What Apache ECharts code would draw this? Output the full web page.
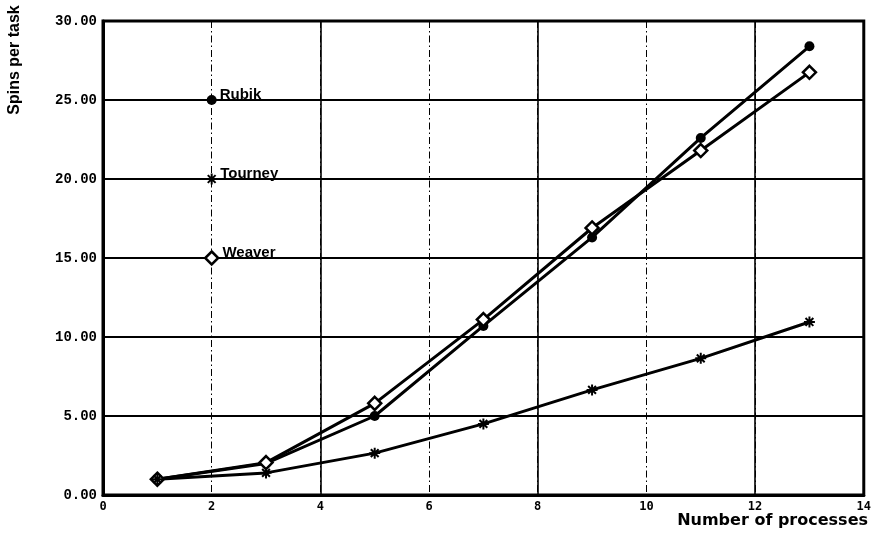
<!DOCTYPE html>
<html>
<head>
<meta charset="utf-8">
<title>Spins per task</title>
<script src="https://cdn.jsdelivr.net/npm/echarts@6/dist/echarts.min.js"></script>
<style>
  html, body { margin: 0; padding: 0; background: #fff; }
  #chart { width: 874px; height: 544px; }
</style>
</head>
<body>
<div id="chart"></div>
<script>
// Number of processes on the x axis
const processes = [1, 3, 5, 7, 9, 11, 13];

// Average spins per task for each lock algorithm
const rubik   = [1.0, 2.0, 5.0, 10.7, 16.3, 22.6, 28.4];
const tourney = [1.0, 1.4, 2.65, 4.5, 6.65, 8.65, 10.95];
const weaver  = [1.0, 2.05, 5.8, 11.1, 16.9, 21.8, 26.75];

// In-plot key: names with the y level of each marker (drawn at x = 2)
const keyNames = ['Rubik', 'Tourney', 'Weaver'];
const keyLevels = [25, 20, 15];
const keyX = 2;

// Axis ranges
const xMin = 0, xMax = 14, xStep = 2;
const yMin = 0, yMax = 30, yStep = 5;

const ink = '#000';
const asterisk = 'path://M-0.9,-5L0.9,-5L0.9,5L-0.9,5Z M-5,-0.9L5,-0.9L5,0.9L-5,0.9Z ' +
  'M-4.2,-2.9L-2.9,-4.2L4.2,2.9L2.9,4.2Z M2.9,-4.2L4.2,-2.9L-2.9,4.2L-4.2,2.9Z';

const markers = {
  Rubik:   { symbol: 'circle', symbolSize: 10, itemStyle: { color: ink, opacity: 1 } },
  Tourney: { symbol: asterisk, symbolSize: 11, itemStyle: { color: ink, opacity: 1 } },
  Weaver:  { symbol: 'diamond', symbolSize: 13,
             itemStyle: { color: '#fff', borderColor: ink, borderWidth: 2.5, opacity: 1 } }
};

function pairs(ys) { return processes.map((x, i) => [x, ys[i]]); }

function lineSeries(name, ys) {
  const m = markers[name];
  return {
    name, type: 'line', xAxisIndex: 0, yAxisIndex: 0,
    data: pairs(ys),
    symbol: m.symbol, symbolSize: m.symbolSize, showAllSymbol: true,
    itemStyle: m.itemStyle,
    lineStyle: { color: ink, width: 3 },
    z: 5, animation: false
  };
}

const keyData = keyNames.map((n, i) => ({
  value: [keyX, keyLevels[i]],
  name: n,
  symbol: markers[n].symbol,
  symbolSize: markers[n].symbolSize,
  itemStyle: markers[n].itemStyle
}));

const chart = echarts.init(document.getElementById('chart'), null, { renderer: 'canvas' });

chart.setOption({
  backgroundColor: '#fff',
  animation: false,
  grid: {
    left: 103, right: 8, top: 21, bottom: 49,
    show: true, borderColor: ink, borderWidth: 3, backgroundColor: 'transparent'
  },
  xAxis: [
    {
      type: 'value', min: xMin, max: xMax, interval: xStep,
      axisLine: { show: true, lineStyle: { color: ink, width: 3 } },
      axisTick: { show: false },
      axisLabel: {
        color: ink, fontFamily: 'DejaVu Sans Mono', fontWeight: 'bold', fontSize: 12,
        margin: 6
      },
      splitLine: { show: true, lineStyle: { color: ink, width: 1, type: [7, 3, 1.5, 3] } }
    },
    {
      // solid verticals at every second tick
      type: 'value', min: xMin, max: xMax, interval: 2 * xStep,
      position: 'bottom', show: true,
      axisLine: { show: false }, axisTick: { show: false }, axisLabel: { show: false },
      splitLine: { show: true, lineStyle: { color: ink, width: 1.6 } }
    }
  ],
  yAxis: {
    type: 'value', min: yMin, max: yMax, interval: yStep,
    axisLine: { show: true, lineStyle: { color: ink, width: 3 } },
    axisTick: { show: false },
    axisLabel: {
      color: ink, fontFamily: 'Liberation Mono', fontWeight: 'bold', fontSize: 14,
      margin: 6, formatter: v => v.toFixed(2)
    },
    splitLine: { show: true, lineStyle: { color: ink, width: 2 } }
  },
  series: [
    lineSeries('Rubik', rubik),
    lineSeries('Weaver', weaver),
    lineSeries('Tourney', tourney),
    {
      name: 'key', type: 'scatter', xAxisIndex: 0, yAxisIndex: 0,
      data: keyData, z: 6,
      itemStyle: { opacity: 1 },
      label: {
        show: true, position: 'right', distance: 3,
        formatter: p => p.name,
        color: ink, opacity: 1, fontFamily: 'Liberation Sans', fontWeight: 'bold', fontSize: 15,
        verticalAlign: 'bottom', offset: [0, 2]
      }
    }
  ],
  graphic: [
    {
      type: 'text', x: 15, y: 60, rotation: Math.PI / 2,
      style: {
        text: 'Spins per task', fill: ink,
        font: 'bold 16px "Liberation Sans"',
        textAlign: 'center', textVerticalAlign: 'middle'
      }
    },
    {
      type: 'text', x: 868, y: 521,
      style: {
        text: 'Number of processes', fill: ink,
        font: 'bold 16px "DejaVu Sans"',
        textAlign: 'right', textVerticalAlign: 'middle'
      }
    }
  ]
});
</script>
</body>
</html>
